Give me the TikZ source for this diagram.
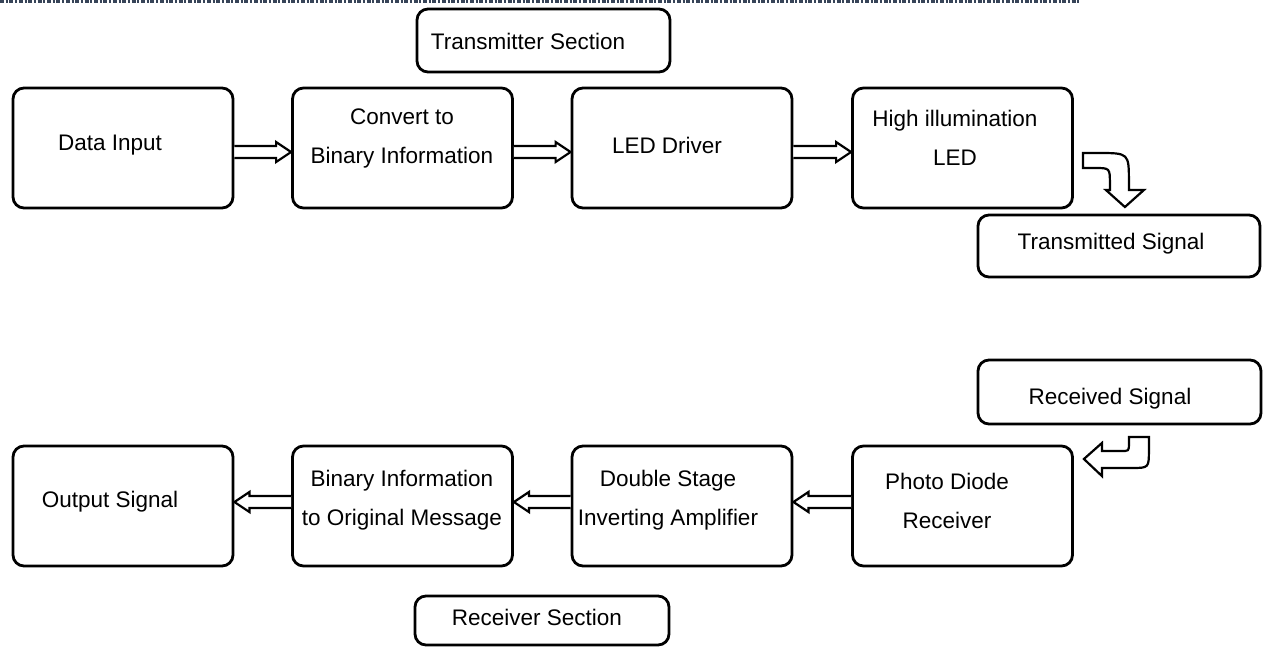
\documentclass[tikz,border=0pt]{standalone}
\usepackage{fontspec}
\setmainfont{Liberation Sans}
\usetikzlibrary{calc}
\begin{document}
\begin{tikzpicture}[x=1pt,y=-1pt,
 box/.style={draw=black, line width=2.8pt, rounded corners=11pt, inner sep=0pt},
 blk/.style={box, minimum width=220pt, minimum height=120pt},
 txt/.style={font=\fontsize{22.5}{39}\selectfont, align=center, inner sep=0pt},
 barrow/.style={draw=black, line width=2.2pt, fill=white, line join=miter},
]
\useasboundingbox (0,0) rectangle (1265,646);
\draw[line width=2.5pt, color={rgb,255:red,55;green,68;blue,88}, dash pattern=on 4pt off 1.7pt on 2pt off 1.7pt] (0,1.5) -- (1080,1.5);

% top row
\node[blk] (b1) at (123,148) {};
\node[blk] (b2) at (402.5,148) {};
\node[blk] (b3) at (682,148) {};
\node[blk] (b4) at (962.5,148) {};
\node[box, minimum width=253pt, minimum height=63pt] (tsec) at (543.5,40.5) {};
\node[box, minimum width=282pt, minimum height=62pt] (tsig) at (1119,246) {};

% bottom row
\node[blk] (r1) at (123,506) {};
\node[blk] (r2) at (402.5,506) {};
\node[blk] (r3) at (682,506) {};
\node[blk] (r4) at (962.5,506) {};
\node[box, minimum width=283pt, minimum height=64pt] (rsig) at (1119.5,392) {};
\node[box, minimum width=254pt, minimum height=49pt] (rsec) at (542,620.5) {};

% texts
\node[txt] (t1) at (110,145) {Data Input};
\node[txt] (t2) at (402,138) {Convert to\\Binary Information};
\node[txt] (t3) at (667,145) {LED Driver};
\node[txt] (t4) at (955,138) {High illumination\\LED};
\node[txt] (t5) at (528,41) {Transmitter Section};
\node[txt] (t6) at (1111,244) {Transmitted Signal};
\node[txt] (t7) at (1110,399) {Received Signal};
\node[txt] (t8) at (110,502) {Output Signal};
\node[txt] (t9) at (402,500.5) {Binary Information\\to Original Message};
\node[txt] (t10) at (668,500) {Double Stage\\Inverting Amplifier};
\node[txt] (t11) at (947,500.5) {Photo Diode\\Receiver};
\node[txt] (t12) at (537,617) {Receiver Section};

% block arrows, top row (pointing right)
\foreach \a/\b in {b1/b2, b2/b3, b3/b4}{
 \draw[barrow] let \p1=(\a.east), \p2=(\b.west) in
  (\x1,\y1+2pt) -- (\x2-15pt,\y1+2pt) -- (\x2-15pt,\y1+6pt) -- (\x2,\y1-4pt)
  -- (\x2-15pt,\y1-14pt) -- (\x2-15pt,\y1-10pt) -- (\x1,\y1-10pt);
}
% block arrows, bottom row (pointing left)
\foreach \a/\b in {r4/r3, r3/r2, r2/r1}{
 \draw[barrow] let \p1=(\a.west), \p2=(\b.east) in
  (\x1,\y1+10pt) -- (\x2+15pt,\y1+10pt) -- (\x2+15pt,\y1+14pt) -- (\x2,\y1+4pt)
  -- (\x2+15pt,\y1-6pt) -- (\x2+15pt,\y1-2pt) -- (\x1,\y1-2pt);
}

% curved arrow: LED -> transmitted signal
\begin{scope}[shift={(b4.east)}]
 \draw[barrow] (9,5) -- (24,5) .. controls (55,5) .. (55,34) -- (55,42) -- (70,42)
  -- (51,59) -- (32,42) -- (36,42) -- (36,36) .. controls (36,20) .. (21,20)
  -- (9,20) -- cycle;
\end{scope}

% curved arrow: received signal -> photo diode
\begin{scope}[shift={(r4.east)}]
 \draw[barrow] (55,-69) -- (75,-69) -- (75,-56) .. controls (75,-38) .. (57,-38)
  -- (28,-38) -- (28,-30) -- (10,-47) -- (28,-63) -- (28,-55) -- (47,-55)
  .. controls (55,-55) .. (55,-62) -- cycle;
\end{scope}
\end{tikzpicture}
\end{document}
